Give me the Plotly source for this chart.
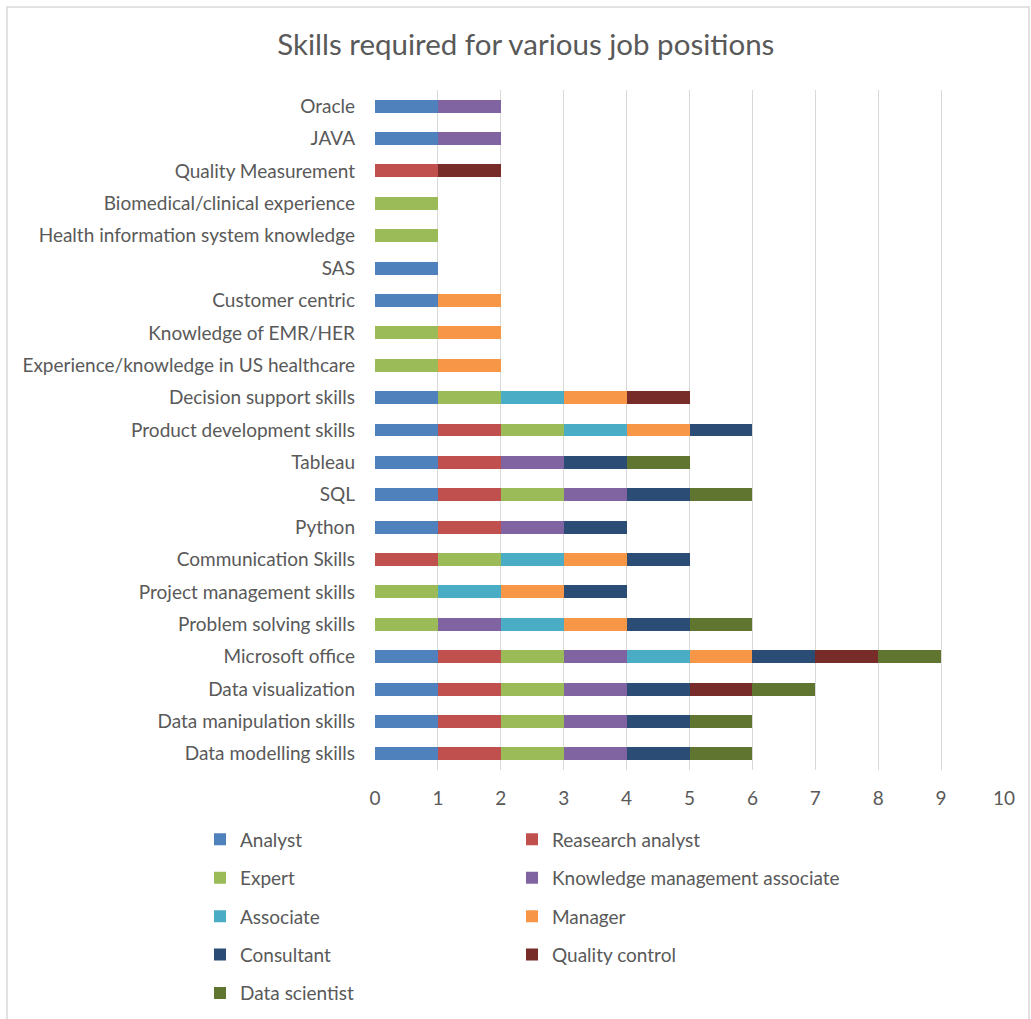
import plotly.graph_objects as go

categories = ["Data modelling skills", "Data manipulation skills", "Data visualization",
              "Microsoft office", "Problem solving skills", "Project management skills",
              "Communication Skills", "Python", "SQL", "Tableau", "Product development skills",
              "Decision support skills", "Experience/knowledge in US healthcare",
              "Knowledge of EMR/HER", "Customer centric", "SAS",
              "Health information system knowledge", "Biomedical/clinical experience",
              "Quality Measurement", "JAVA", "Oracle"]

analyst            = [1,1,1,1,0,0,0,1,1,1,1,1,0,0,1,1,0,0,0,1,1]
research_analyst   = [1,1,1,1,0,0,1,1,1,1,1,0,0,0,0,0,0,0,1,0,0]
expert             = [1,1,1,1,1,1,1,0,1,0,1,1,1,1,0,0,1,1,0,0,0]
knowledge_mgmt     = [1,1,1,1,1,0,0,1,1,1,0,0,0,0,0,0,0,0,0,1,1]
associate          = [0,0,0,1,1,1,1,0,0,0,1,1,0,0,0,0,0,0,0,0,0]
manager            = [0,0,0,1,1,1,1,0,0,0,1,1,1,1,1,0,0,0,0,0,0]
consultant         = [1,1,1,1,1,1,1,1,1,1,1,0,0,0,0,0,0,0,0,0,0]
quality_control    = [0,0,1,1,0,0,0,0,0,0,0,1,0,0,0,0,0,0,1,0,0]
data_scientist     = [1,1,1,1,1,0,0,0,1,1,0,0,0,0,0,0,0,0,0,0,0]

series_names = ["Analyst", "Reasearch analyst", "Expert", "Knowledge management associate",
                "Associate", "Manager", "Consultant", "Quality control", "Data scientist"]
series_values = [analyst, research_analyst, expert, knowledge_mgmt, associate, manager,
                 consultant, quality_control, data_scientist]
colors = ["#4F81BD", "#C0504D", "#9BBB59", "#8064A2", "#4BACC6", "#F79646",
          "#2A4C75", "#772C2A", "#5F7530"]

FONT = "Lato"
GREY = "#595959"

fig = go.Figure()
for i, (name, vals, col) in enumerate(zip(series_names, series_values, colors)):
    fig.add_trace(go.Bar(
        y=categories, x=vals, name=name, orientation="h",
        marker=dict(color=col, line=dict(width=0)),
        width=0.4,
        legend="legend" if i % 2 == 0 else "legend2",
        legendgroup=name,
    ))

LEG_TOP = (770 - 820.5) / 680

fig.update_layout(
    barmode="stack",
    width=1031, height=1019,
    margin=dict(l=375, r=27, t=90, b=249, autoexpand=False),
    paper_bgcolor="white", plot_bgcolor="white",
    font=dict(family=FONT, color=GREY, size=19),
    title=dict(text="Skills required for various job positions",
               x=0.51, xref="container", xanchor="center",
               y=1 - 45 / 1019, yref="container", yanchor="middle",
               font=dict(size=29.5, color=GREY, family=FONT)),
    xaxis=dict(range=[0, 10], dtick=1, tick0=0, showgrid=True, gridcolor="#D9D9D9",
               gridwidth=1, zeroline=False, showline=False, ticks="",
               ticklabelstandoff=15, tickfont=dict(size=19, color=GREY)),
    yaxis=dict(showgrid=False, zeroline=False, showline=False, ticks="",
               ticklabelstandoff=19, tickfont=dict(size=19, color=GREY)),
    legend=dict(orientation="v", x=(200 - 375) / 629, xanchor="left",
                y=LEG_TOP, yanchor="top", traceorder="grouped",
                tracegroupgap=10.7, font=dict(size=19, color=GREY), bgcolor="rgba(0,0,0,0)"),
    legend2=dict(orientation="v", x=(512 - 375) / 629, xanchor="left",
                 y=LEG_TOP, yanchor="top", traceorder="grouped",
                 tracegroupgap=10.7, font=dict(size=19, color=GREY), bgcolor="rgba(0,0,0,0)"),
    shapes=[dict(type="rect", xref="paper", yref="paper",
                 x0=(7 - 375) / 629, x1=(1029 - 375) / 629,
                 y0=(770 - 1040) / 680, y1=(770 - 7) / 680,
                 line=dict(color="#D9D9D9", width=1.5), fillcolor="rgba(0,0,0,0)",
                 layer="below")],
)

fig.write_html("out.html")
